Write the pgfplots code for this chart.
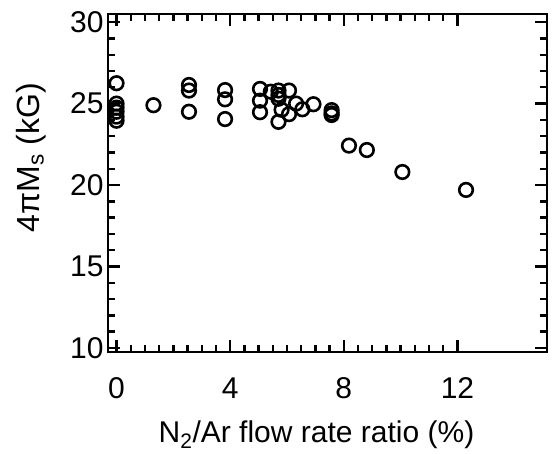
\documentclass[border=0pt]{standalone}
\usepackage{pgfplots}
\pgfplotsset{compat=1.18}
\usepackage{fontspec}
\setmainfont{Liberation Sans}
\begin{document}
\begin{tikzpicture}
\useasboundingbox (0,0) rectangle (552pt,454pt);
\begin{axis}[
  at={(108pt,102pt)}, anchor=south west,
  scale only axis, width=439pt, height=338pt,
  xmin=-0.3, xmax=15.15, ymin=9.75, ymax=30.5,
  xtick={0,4,8,12}, minor x tick num=7,
  ytick={10,15,20,25,30}, minor y tick num=4,
  tick align=inside,
  major tick length=12pt, minor tick length=7pt,
  every tick/.style={line width=2.4pt, black},
  axis line style={line width=2.4pt},
  /pgf/number format/assume math mode=true,
  tick label style={font=\fontsize{30}{36}\selectfont},
  xticklabel style={yshift=-22pt},
  yticklabel style={xshift=-1pt},
  xlabel style={font=\fontsize{30}{36}\selectfont},
  ylabel style={font=\fontsize{32}{38}\selectfont},
  xlabel={N\textsubscript{2}/Ar flow rate ratio (\%)},
  ylabel={4πM\textsubscript{s} (kG)},
  xlabel style={at={(axis description cs:0.475,-0.2663)}, anchor=base},
  ylabel style={at={(axis description cs:-0.155,0.575)}, anchor=base},
  clip=false,
]
\addplot[only marks, mark=o, mark size=6.8pt, line width=2.6pt, black] coordinates {
(0,26.25) (0,25.0) (0,24.75) (0,24.5) (0,24.2) (0,23.95)
(1.3,24.9)
(2.55,26.14) (2.55,25.8) (2.55,24.5)
(3.82,25.83) (3.82,25.26) (3.82,24.05)
(5.05,25.9) (5.05,25.18) (5.05,24.47)
(5.43,25.73)
(5.7,25.8) (5.7,25.53) (5.7,25.3) (5.7,23.88)
(6.07,25.8) (5.81,24.62) (6.07,24.35)
(6.32,25.0) (6.54,24.65) (6.93,24.96)
(7.57,24.6) (7.57,24.4) (7.57,24.3)
(8.18,22.42) (8.81,22.15) (10.06,20.8) (12.3,19.7)
};
\end{axis}
\end{tikzpicture}
\end{document}
